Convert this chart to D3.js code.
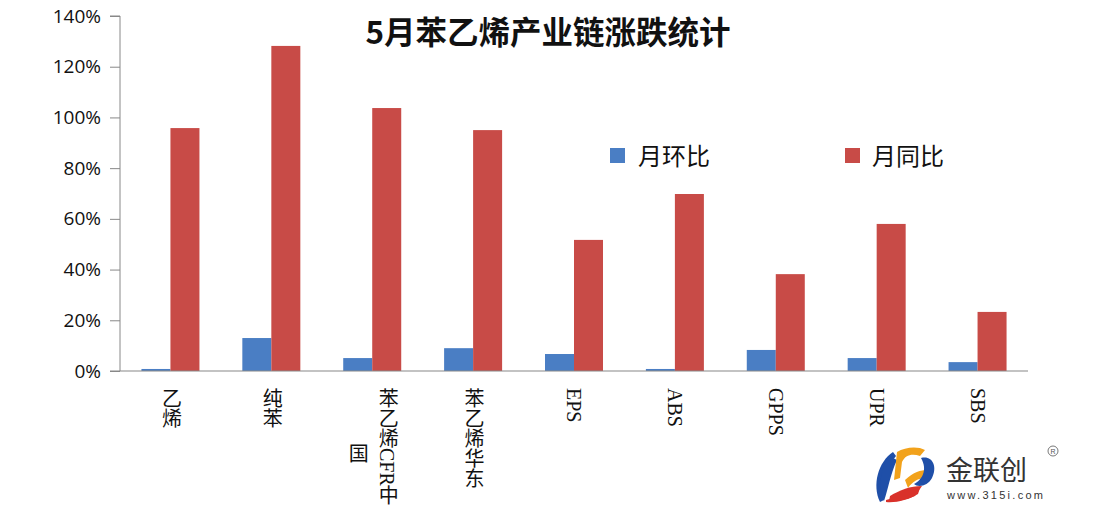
<!DOCTYPE html>
<html><head><meta charset="utf-8">
<script src="https://cdn.jsdelivr.net/npm/d3@7"></script>
<style>body{margin:0;background:#fff}svg{display:block}</style>
</head><body><svg id="c" width="1094" height="524"></svg>
<script>
const categories = ["乙烯","纯苯","苯乙烯CFR中国","苯乙烯华东","EPS","ABS","GPPS","UPR","SBS"];
const momValues = [0.8, 13, 5.1, 9, 6.7, 0.8, 8.3, 5.1, 3.5];     // 月环比 %
const yoyValues = [95.8, 128.2, 103.7, 95, 51.7, 69.8, 38.2, 58, 23.3]; // 月同比 %
const seriesNames = ["月环比","月同比"];
const yTicks = [0,20,40,60,80,100,120,140];
const colors = ["#4A7EC4","#C84B47"];

(function(){
const svg = d3.select("#c");
const L = 120, R = 1028, T = 16, B = 371;
const x = d3.scaleBand().domain(categories).range([L,R]);
const y = d3.scaleLinear().domain([0,140]).range([B,T]);
const bw = 29;

// title
svg.append("text").attr("x",548).attr("y",44).attr("text-anchor","middle")
  .attr("font-family","'Noto Sans CJK SC'").attr("font-weight","bold").attr("font-size",31.5)
  .attr("fill","#111").text("5月苯乙烯产业链涨跌统计");

// y axis
const ya = svg.append("g").attr("transform",`translate(${L},0)`)
  .call(d3.axisLeft(y).tickValues(yTicks).tickFormat(d=>d+"%").tickSize(10).tickPadding(9));
ya.select(".domain").attr("stroke","#888").attr("d",`M-10,${T}H0V${B}H-10`);
ya.selectAll(".tick line").attr("stroke","#888");
ya.selectAll(".tick text").attr("font-family","'Open Sans'").attr("font-size",19).attr("fill","#111");

// bars
const g = svg.append("g");
categories.forEach((c,i)=>{
  const cx = x(c)+x.bandwidth()/2;
  [momValues[i], yoyValues[i]].forEach((v,j)=>{
    g.append("rect").attr("x", j===0 ? cx-bw : cx).attr("width",bw)
      .attr("y",y(v)).attr("height",B-y(v)).attr("fill",colors[j]);
  });
});

// x axis line
svg.append("line").attr("x1",L).attr("x2",R).attr("y1",B).attr("y2",B)
  .attr("stroke","#888").attr("stroke-width",1.2);

// x labels (vertical)
categories.forEach(c=>{
  const cx = x(c)+x.bandwidth()/2;
  const lines = c==="苯乙烯CFR中国" ? ["苯乙烯CFR中","国"] : [c];
  lines.forEach((t,k)=>{
    const off = lines.length>1 ? (k===0 ? 15 : -15) : 0;
    const y0 = (lines.length>1 && k===1) ? 443 : 388;
    svg.append("text").attr("x",cx+off).attr("y",y0)
      .style("writing-mode","vertical-rl").style("text-orientation","mixed")
      .attr("font-family","'Liberation Serif','Noto Sans CJK SC'").attr("font-size",20)
      .attr("fill","#111").text(t);
  });
});

// legend
const lg = [[610,638],[845,872]];
seriesNames.forEach((s,i)=>{
  svg.append("rect").attr("x",lg[i][0]).attr("y",148).attr("width",15).attr("height",15).attr("fill",colors[i]);
  svg.append("text").attr("x",lg[i][1]).attr("y",165).attr("font-family","'Noto Sans CJK SC'")
    .attr("font-size",24).attr("fill","#111").text(s);
});

// logo
const logo = svg.append("g");
logo.append("path").attr("d","M893,452 C878,462 872,485 880,502 L884,500 C880,485 886,468 896,456 Z").attr("fill","#1f4fa8");
logo.append("path").attr("d","M889,456 C880,470 878,488 884,501 C888,490 890,475 897,460 Z").attr("fill","#1f4fa8");
logo.append("path").attr("d","M897,452 C905,447 918,446 925,450 L920,456 C912,453 905,455 902,462 L900,478 L894,480 Z").attr("fill","#f2a21b");
logo.append("path").attr("d","M905,480 C914,472 920,470 928,470 L926,478 C918,478 912,482 908,488 Z").attr("fill","#f2a21b");
logo.append("path").attr("d","M921,458 C932,455 938,466 932,478 C928,486 918,488 914,484 C922,480 928,470 921,458 Z").attr("fill","#1f4fa8");
logo.append("path").attr("d","M886,500 C898,497 910,492 920,488 L918,494 C908,500 896,503 886,502 Z").attr("fill","#d9312a");
logo.append("path").attr("d","M890,496 C900,490 910,486 922,486 L915,496 C906,500 896,502 889,501 Z").attr("fill","#d9312a");
logo.append("text").attr("x",946).attr("y",480).attr("font-family","'Noto Sans CJK SC'").attr("font-size",27)
  .attr("fill","#333").text("金联创");
logo.append("text").attr("x",947).attr("y",499).attr("font-family","'Liberation Sans'").attr("font-size",11)
  .attr("fill","#333").attr("textLength",96).text("www.315i.com");
logo.append("circle").attr("cx",1053).attr("cy",451).attr("r",5).attr("fill","none").attr("stroke","#555").attr("stroke-width",0.8);
logo.append("text").attr("x",1053).attr("y",453.5).attr("text-anchor","middle").attr("font-family","'Liberation Sans'")
  .attr("font-size",7).attr("fill","#555").text("R");
})();
</script></body></html>
